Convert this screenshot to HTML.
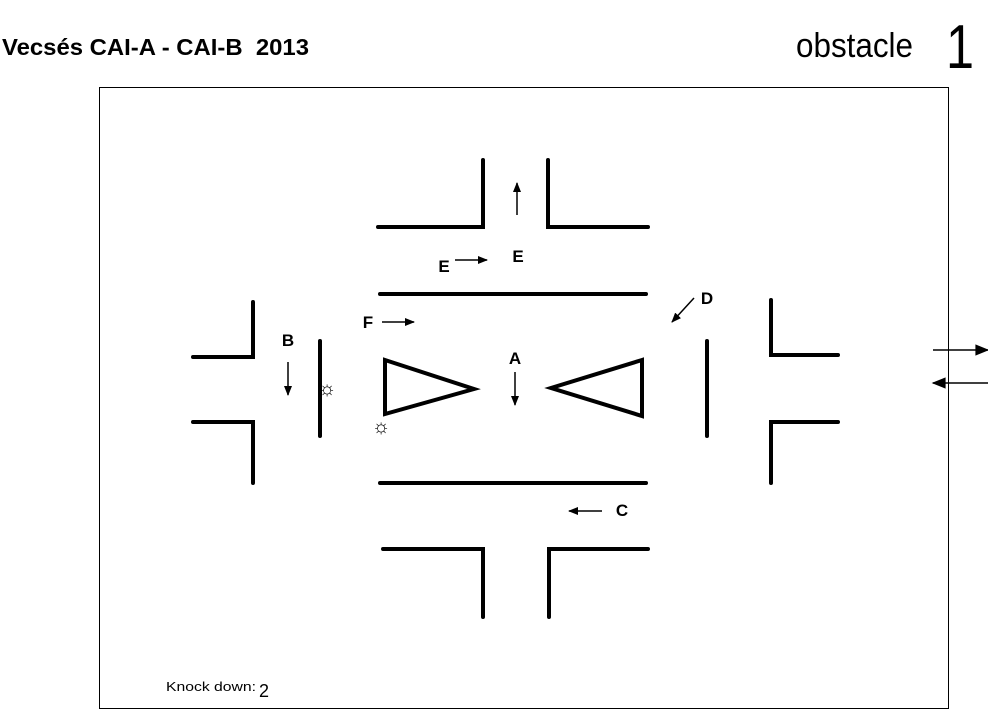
<!DOCTYPE html>
<html><head><meta charset="utf-8"><style>
html,body{margin:0;padding:0;background:#fff;width:988px;height:710px;overflow:hidden}
svg{display:block}
text{font-family:"Liberation Sans",sans-serif}
</style></head><body>
<svg width="988" height="710" viewBox="0 0 988 710" xmlns="http://www.w3.org/2000/svg">
<defs>
<marker id="ah" viewBox="0 0 10 10" refX="9" refY="5" markerWidth="10" markerHeight="10" markerUnits="userSpaceOnUse" orient="auto">
<path d="M0,1 L10,5 L0,9 z" fill="#000"/></marker>
<marker id="ahb" viewBox="0 0 10 10" refX="9" refY="5" markerWidth="18" markerHeight="14" markerUnits="userSpaceOnUse" orient="auto">
<path d="M0,1 L10,5 L0,9 z" fill="#000"/></marker>
</defs>
<text x="2" y="55" font-size="23" font-weight="bold" textLength="307" lengthAdjust="spacingAndGlyphs" xml:space="preserve">Vecsés CAI-A - CAI-B  2013</text>
<text x="796" y="57" font-size="34" textLength="117" lengthAdjust="spacingAndGlyphs">obstacle</text>
<text x="946" y="68" font-size="62" textLength="28" lengthAdjust="spacingAndGlyphs">1</text>
<rect x="99.5" y="87.5" width="849" height="621" fill="none" stroke="#000" stroke-width="1"/>
<g stroke="#000" stroke-width="4" fill="none" stroke-linecap="round" stroke-linejoin="miter">
<polyline points="378,227 483,227 483,160"/>
<polyline points="648,227 548,227 548,160"/>
<line x1="380" y1="294" x2="646" y2="294"/>
<line x1="380" y1="483" x2="646" y2="483"/>
<polyline points="383,549 483,549 483,617"/>
<polyline points="648,549 549,549 549,617"/>
<polyline points="193,357 253,357 253,302"/>
<polyline points="193,422 253,422 253,483"/>
<polyline points="838,355 771,355 771,300"/>
<polyline points="838,422 771,422 771,483"/>
<line x1="320" y1="341" x2="320" y2="436"/>
<line x1="707" y1="341" x2="707" y2="436"/>
<polygon points="385,360 474,389 385,414"/>
<polygon points="642,360 551,388 642,416"/>
</g>
<g stroke="#000" stroke-width="1.5">
<line x1="517" y1="215" x2="517" y2="183" marker-end="url(#ah)"/>
<line x1="455" y1="260" x2="487" y2="260" marker-end="url(#ah)"/>
<line x1="382" y1="322" x2="414" y2="322" marker-end="url(#ah)"/>
<line x1="694" y1="298" x2="672" y2="322" marker-end="url(#ah)"/>
<line x1="288" y1="362" x2="288" y2="395" marker-end="url(#ah)"/>
<line x1="515" y1="372" x2="515" y2="405" marker-end="url(#ah)"/>
<line x1="602" y1="511" x2="569" y2="511" marker-end="url(#ah)"/>
<line x1="933" y1="350" x2="988" y2="350" marker-end="url(#ahb)"/>
<line x1="988" y1="383" x2="933" y2="383" marker-end="url(#ahb)"/>
</g>
<g font-size="17" font-weight="bold" text-anchor="middle">
<text x="444" y="272">E</text>
<text x="518" y="262">E</text>
<text x="368" y="328">F</text>
<text x="707" y="304">D</text>
<text x="288" y="346">B</text>
<text x="515" y="364">A</text>
<text x="622" y="516">C</text>
</g>
<g font-size="20" font-weight="bold" text-anchor="middle">
<text x="327" y="395">☼</text>
<text x="381" y="433">☼</text>
</g>
<text x="166" y="691" font-size="13" textLength="90" lengthAdjust="spacingAndGlyphs">Knock down:</text>
<text x="259" y="697" font-size="18">2</text>
</svg>
</body></html>
